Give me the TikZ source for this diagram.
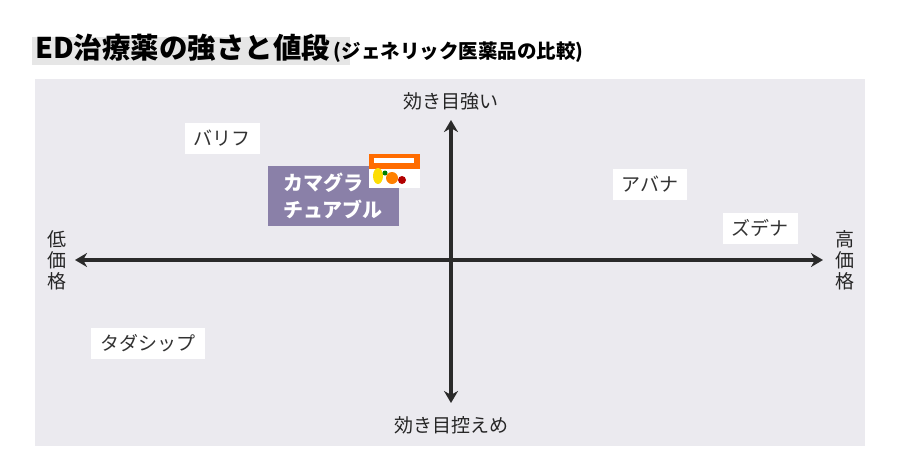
\documentclass[tikz,border=0pt]{standalone}
\usepackage{fontspec}
\usetikzlibrary{arrows.meta}
\setmainfont{Noto Sans CJK JP}
\definecolor{plotbg}{HTML}{EBEAEF}
\definecolor{titlebg}{HTML}{E6E6E6}
\definecolor{kama}{HTML}{8A80A8}
\definecolor{axis}{HTML}{2A2A2A}
\begin{document}
\begin{tikzpicture}[x=1pt,y=-1pt,
  drug/.style={fill=white,font=\fontsize{19}{19}\selectfont,text=black!80,inner xsep=9pt,minimum height=31pt},
  axlabel/.style={font=\fontsize{19}{21}\selectfont,text=black!85,align=center},
  axarrow/.style={draw=axis,line width=3.2pt,{Stealth[length=12pt,width=14pt]}-{Stealth[length=12pt,width=14pt]}}]
	\useasboundingbox (0,0) rectangle (900,472);
	\fill[white] (0,0) rectangle (900,472);
	% title
	\fill[titlebg] (32,37) rectangle (350,65);
	\node[anchor=base west,inner sep=0,font=\fontsize{28.5}{28}\selectfont\bfseries] (title) at (35,58) {ED治療薬の強さと値段};
	\node[anchor=base west,inner sep=0,font=\fontsize{19.5}{19}\selectfont\bfseries] (subtitle) at ([xshift=3pt]title.base east) {(ジェネリック医薬品の比較)};
	% plot area
	\fill[plotbg] (35,79) rectangle (865,446);
	\coordinate (left) at (75,260);
	\coordinate (right) at (823,260);
	\coordinate (top) at (451,120);
	\coordinate (bottom) at (451,403);
	\draw[axarrow] (left) -- (right);
	\draw[axarrow] (top) -- (bottom);
	\node[axlabel] (strong) at (451,101) {効き目強い};
	\node[axlabel] (weak) at (451,425) {効き目控えめ};
	\node[axlabel] (cheap) at (57,260) {低\\価\\格};
	\node[axlabel] (pricey) at (845,260) {高\\価\\格};
	% drugs
	\node[drug] (barif) at (222,138) {バリフ};
	\node[drug] (avana) at (650,184) {アバナ};
	\node[drug] (zudena) at (760,228) {ズデナ};
	\node[drug] (tada) at (148,343) {タダシップ};
	\node[fill=kama,text=white,font=\fontsize{20}{27}\selectfont\bfseries,align=left,
	      minimum width=131pt,minimum height=60pt,inner xsep=10pt] (kamagra) at (333,196) {カマグラ\\チュアブル};
	% package
	\fill[white] (369,154) rectangle (420,188);
	\fill[orange!85!red] (369,154) rectangle (420,169);
	\fill[white] (374,158) rectangle (414,163);
	\fill[yellow!80!orange] (378,176) ellipse (5 and 8);
	\fill[orange] (392,178) circle (6);
	\fill[red!70!black] (402,180) circle (4);
	\fill[green!50!black] (385,173) circle (2.5);
\end{tikzpicture}
\end{document}
